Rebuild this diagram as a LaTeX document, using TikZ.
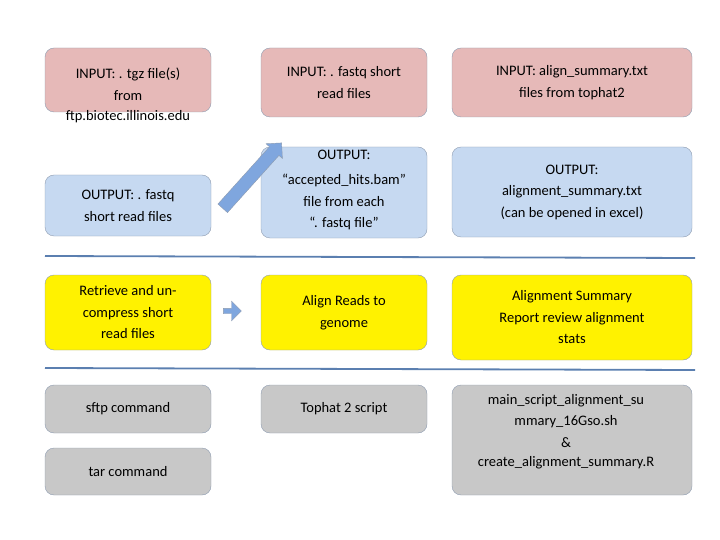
\documentclass[tikz,border=0pt]{standalone}
\usepackage{fontspec}
\setmainfont{Carlito}
\usetikzlibrary{shapes.arrows}
\definecolor{pinkfill}{HTML}{E6B9B8}
\definecolor{bluefill}{HTML}{C6D9F1}
\definecolor{grayfill}{HTML}{C8C8C8}
\definecolor{edgecol}{HTML}{8E9CB0}
\definecolor{rulecol}{HTML}{5B7FB0}
\definecolor{arrowfill}{HTML}{7FA6DE}
\tikzset{
	box/.style={draw=edgecol,rounded corners=9pt,align=center,inner sep=2pt},
	inbox/.style={box,fill=pinkfill},
	outbox/.style={box,fill=bluefill},
	stepbox/.style={box,fill=yellow},
	cmdbox/.style={box,fill=grayfill},
	txt/.style={align=center,font=\fontsize{14.5}{21.5}\selectfont},
	blk arrow/.style={single arrow,draw=edgecol,fill=arrowfill}
}
\newcommand{\mkbox}[6]{\node[#1,minimum width={(#4-#2)*1pt},minimum height={(#5-#3)*1pt}] (#6) at ({(#2+#4)/2},{(#3+#5)/2}) {};}
\begin{document}
\begin{tikzpicture}[x=1pt,y=-1pt]
	\useasboundingbox (0,0) rectangle (720,540);
	% row 1
	\mkbox{inbox}{45}{48}{211}{112}{in1}
	\mkbox{inbox}{261}{48}{427}{117}{in2}
	\mkbox{inbox}{452}{48}{692}{117}{in3}
	\node[txt] (t1) at (128,84) {INPUT: . tgz file(s)\\from};
	\node[txt] (t1b) at (128,117) {ftp.biotec.illinois.edu};
	\node[txt] (t2) at (in2) {INPUT: . fastq short\\read files};
	\node[txt] (t3) at (in3) {INPUT: align\_summary.txt\\files from tophat2};
	% row 2
	\mkbox{outbox}{45}{175}{211}{236}{out1}
	\mkbox{outbox}{261}{147}{427}{238}{out2}
	\mkbox{outbox}{452}{147}{692}{237}{out3}
	\node[txt] (t4) at (out1) {OUTPUT: . fastq\\short read files};
	\node[txt] (t5) at (344,190) {OUTPUT:\\[4pt]“accepted\_hits.bam”\\file from each\\“. fastq file”};
	\node[txt] (t6) at (out3) {OUTPUT:\\alignment\_summary.txt\\(can be opened in excel)};
	\node[blk arrow,minimum height=88pt,minimum width=22pt,inner sep=4pt,single arrow head extend=3pt,rotate=48] (up) at (250,178) {};
	\draw[rulecol,line width=1.8pt] (45,256) -- (695,258);
	% row 3
	\mkbox{stepbox}{45}{275}{211}{350}{st1}
	\mkbox{stepbox}{261}{275}{427}{350}{st2}
	\mkbox{stepbox}{452}{275}{692}{360}{st3}
	\node[txt] (t7) at (st1) {Retrieve and un-\\compress short\\read files};
	\node[txt] (t8) at (st2) {Align Reads to\\genome};
	\node[txt] (t9) at (st3) {Alignment Summary\\Report review alignment\\stats};
	\node[blk arrow,minimum height=18pt,minimum width=15pt,inner sep=2.5pt] (right) at (231,311) {};
	\draw[rulecol,line width=1.8pt] (45,368) -- (695,370);
	% row 4
	\mkbox{cmdbox}{45}{385}{211}{433}{c1}
	\mkbox{cmdbox}{45}{448}{211}{495}{c2}
	\mkbox{cmdbox}{261}{385}{427}{433}{c3}
	\mkbox{cmdbox}{452}{385}{692}{495}{c4}
	\node[txt] (t10) at (c1) {sftp command};
	\node[txt] (t11) at (c2) {tar command};
	\node[txt] (t12) at (c3) {Tophat 2 script};
	\node[txt] (t13) at (566,421) {main\_script\_alignment\_su\\mmary\_16Gso.sh\\\&};
	\node[txt] (t14) at (566,463) {create\_alignment\_summary.R};
\end{tikzpicture}
\end{document}
